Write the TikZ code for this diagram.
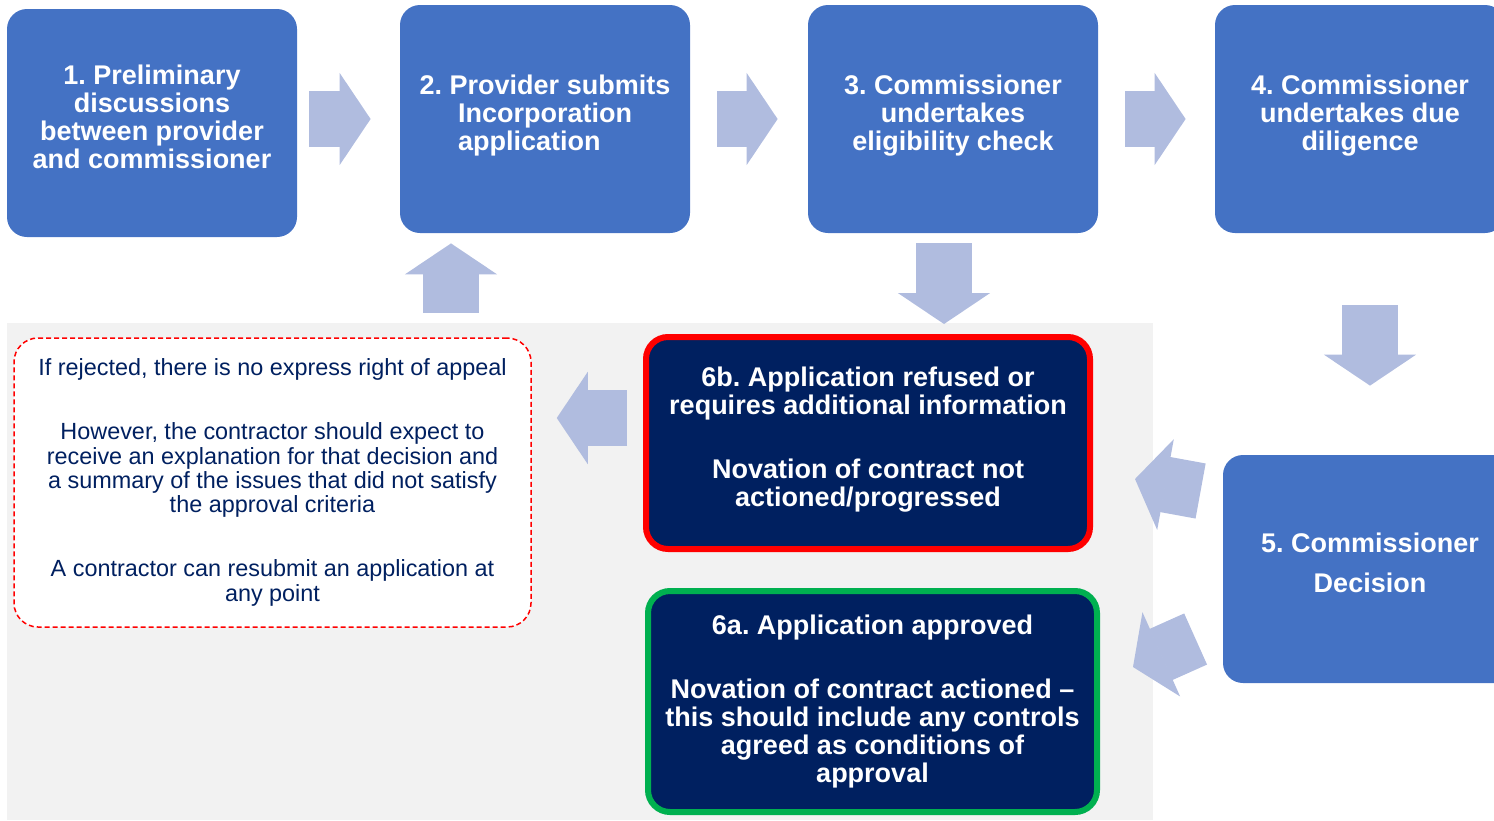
\documentclass[tikz,border=0pt]{standalone}
\usepackage{fontspec,calc}
\setmainfont{Liberation Sans}
\frenchspacing
\usetikzlibrary{positioning,arrows.meta}
\definecolor{stageblue}{HTML}{4472C4}
\definecolor{flowgrey}{HTML}{B0BCDF}
\definecolor{navy}{HTML}{002060}
\definecolor{panel}{HTML}{F2F2F2}
\definecolor{okgreen}{HTML}{00B050}

\tikzset{
  stage/.style={rounded corners=10pt,fill=stageblue,text=white,align=center,
    minimum width=145pt,minimum height=114pt,inner sep=0pt,
    font=\fontsize{13.5pt}{14pt}\selectfont\bfseries,
    execute at end node={\rule[-6.5pt]{0pt}{6.5pt}}},
  outcome/.style={rounded corners=11pt,fill=navy,line width=3pt,text=white,align=center,
    inner sep=0pt,font=\fontsize{13.5pt}{14pt}\selectfont\bfseries},
  note/.style={rounded corners=12pt,draw=red,fill=white,line width=.75pt,
    dash pattern=on 2.5pt off 1.5pt,text=navy,align=center,inner sep=0pt,
    minimum width=258.5pt,minimum height=144.5pt,font=\fontsize{11.7pt}{12.2pt}\selectfont},
  flow/.style={draw=flowgrey,line width=28pt,
    -{Triangle[length=15.5pt,width=46pt,line width=1pt]}},
}

\begin{document}
\begin{tikzpicture}[x=1pt,y=-1pt]
\useasboundingbox (0,0) rectangle (747,410);
\fill[panel] (3.5,161.5) rectangle (576.5,410);

\node[stage] (b1) at (76,61.5) {1. Preliminary\\discussions\\between provider\\and commissioner};
\node[stage] (b2) at (272.5,59.5) {2. Provider submits\\Incorporation\\\makebox[\widthof{Incorporation}][l]{application}};
\node[stage] (b3) at (476.5,59.5) {3. Commissioner\\undertakes\\eligibility check};
\node[stage] (b4) at (680,59.5) {4. Commissioner\\undertakes due\\diligence};
\node[stage,minimum width=147pt] (b5) at (685,284.5) {5. Commissioner\\[6pt]Decision};

\node[outcome,draw=red,minimum width=222pt,minimum height=106pt] (refused) at (434,221.5)
  {6b. Application refused or\\requires additional information\\[18pt]Novation of contract not\\actioned/progressed\rule[-6pt]{0pt}{6pt}};
\node[outcome,draw=okgreen,minimum width=224.5pt,minimum height=110.5pt] (approved) at (436.25,350.75)
  {6a. Application approved\\[18pt]Novation of contract actioned –\\this should include any controls\\agreed as conditions of\\approval};
\node[note] (appeal) at (136.25,241.25)
  {If rejected, there is no express right of appeal\\[19.8pt]
   However, the contractor should expect to\\receive an explanation for that decision and\\a summary of the issues that did not satisfy\\the approval criteria\\[19.8pt]
   A contractor can resubmit an application at\\any point};

% block arrows between the stages
\draw[flow,shorten <=6pt,shorten >=14.5pt] (b1.east |- b2.west) -- (b2.west);
\draw[flow,shorten <=13.5pt,shorten >=15pt] (b2.east) -- (b3.west);
\draw[flow,shorten <=13.5pt,shorten >=14.5pt] (b3.east) -- (b4.west);
\draw[flow,shorten <=36pt,shorten >=34.5pt] (b4.south -| b5.north) -- (b5.north);

\path (b3.south) ++(-4.5,0) coordinate (chk);
\draw[flow,shorten <=5pt,shorten >=5pt] (chk) -- (chk |- refused.north);

\path ([yshift=12.5pt]refused.west) coordinate (rej);
\draw[flow,shorten <=8pt,shorten >=12.5pt] (rej) -- (rej -| appeal.east);

\coordinate (resub) at (225.5,156.5);
\draw[flow,shorten >=5pt] (resub) -- (resub |- b2.south);

\draw[flow] ([shift={(-11,-39)}]b5.west) -- ([shift={(21,18)}]refused.east);
\draw[flow] ([shift={(-13.5,35)}]b5.west) -- ([shift={(16.5,-17.25)}]approved.east);
\end{tikzpicture}
\end{document}
